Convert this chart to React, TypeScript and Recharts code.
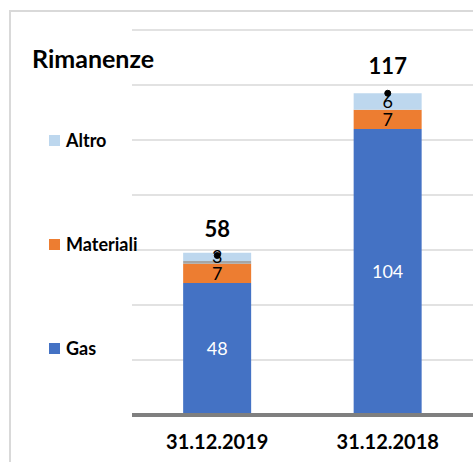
import { Bar, Line, XAxis, YAxis, CartesianGrid, LabelList, ComposedChart } from 'recharts';

const CATEGORIES = ['31.12.2019', '31.12.2018'];
const GAS = [48, 104];
const MATERIALI = [7, 7];
const ALTRO_GRIGIO = [1, 0];
const ALTRO = [3, 6];
const TOTALI = [58, 117];
const Y_TICKS = [0, 20, 40, 60, 80, 100, 120, 140];

const LEGEND_ITEMS = [
  { name: 'Altro', color: '#bdd7ee' },
  { name: 'Materiali', color: '#ed7d31' },
  { name: 'Gas', color: '#4472c4' },
];

const FONT = 'Lato, "Liberation Sans", sans-serif';

const data = CATEGORIES.map((c, i) => ({
  name: c,
  gas: GAS[i],
  materiali: MATERIALI[i],
  grigio: ALTRO_GRIGIO[i],
  altro: ALTRO[i],
  totale: TOTALI[i],
}));

function SideLegend() {
  return (
    <div style={{ position: 'absolute', left: 49, top: 129, width: 120, height: 300 }}>
      {LEGEND_ITEMS.map((item, i) => (
        <div
          key={item.name}
          style={{
            position: 'absolute',
            top: i * 104,
            left: 0,
            display: 'flex',
            alignItems: 'center',
            gap: 6,
            fontFamily: FONT,
            fontWeight: 700,
            fontSize: 18,
            color: '#000',
            whiteSpace: 'nowrap',
          }}
        >
          <div style={{ width: 11, height: 11, backgroundColor: item.color }} />
          <span>{item.name}</span>
        </div>
      ))}
    </div>
  );
}

export default function App() {
  return (
    <div style={{ position: 'absolute', left: 0, top: 0, width: 473, height: 462, overflow: 'hidden', background: '#fff' }}>
      <div
        style={{
          position: 'absolute',
          left: 9,
          top: 10,
          width: 600,
          height: 600,
          borderLeft: '2px solid #d9d9d9',
          borderTop: '2px solid #d9d9d9',
        }}
      />
      <div
        style={{
          position: 'absolute',
          left: 32,
          top: 43,
          fontFamily: FONT,
          fontWeight: 700,
          fontSize: 25,
          color: '#000',
        }}
      >
        Rimanenze
      </div>
      <ComposedChart
        width={473}
        height={462}
        data={data}
        margin={{ top: 30, right: 0, left: 132, bottom: 0 }}
        barCategoryGap="30%"
        style={{ position: 'absolute', left: 0, top: 0 }}
      >
        <CartesianGrid vertical={false} stroke="#d9d9d9" strokeWidth={1.5} />
        <YAxis hide domain={[0, 140]} ticks={Y_TICKS} />
        <XAxis
          dataKey="name"
          height={47}
          axisLine={{ stroke: '#7f7f7f', strokeWidth: 4 }}
          tickLine={false}
          tick={{ fill: '#000', fontFamily: FONT, fontWeight: 700, fontSize: 20 }}
          tickMargin={14}
        />
        <Bar dataKey="gas" name="Gas" stackId="a" fill="#4472c4" isAnimationActive={false}>
          <LabelList dataKey="gas" position="center" fill="#fff" fontFamily={FONT} fontSize={18} />
        </Bar>
        <Bar dataKey="materiali" name="Materiali" stackId="a" fill="#ed7d31" isAnimationActive={false}>
          <LabelList dataKey="materiali" position="center" fill="#000" fontFamily={FONT} fontSize={18} />
        </Bar>
        <Bar dataKey="grigio" name="" stackId="a" fill="#a5a5a5" isAnimationActive={false} />
        <Bar dataKey="altro" name="Altro" stackId="a" fill="#bdd7ee" isAnimationActive={false}>
          <LabelList dataKey="altro" position="center" fill="#000" fontFamily={FONT} fontSize={18} />
        </Bar>
        <Line
          dataKey="totale"
          stroke="none"
          dot={{ r: 3, fill: '#000', stroke: '#000' }}
          activeDot={false}
          isAnimationActive={false}
        >
          <LabelList
            dataKey="totale"
            position="top"
            offset={19}
            fill="#000"
            fontFamily={FONT}
            fontWeight={700}
            fontSize={22}
          />
        </Line>
      </ComposedChart>
      <SideLegend />
    </div>
  );
}
